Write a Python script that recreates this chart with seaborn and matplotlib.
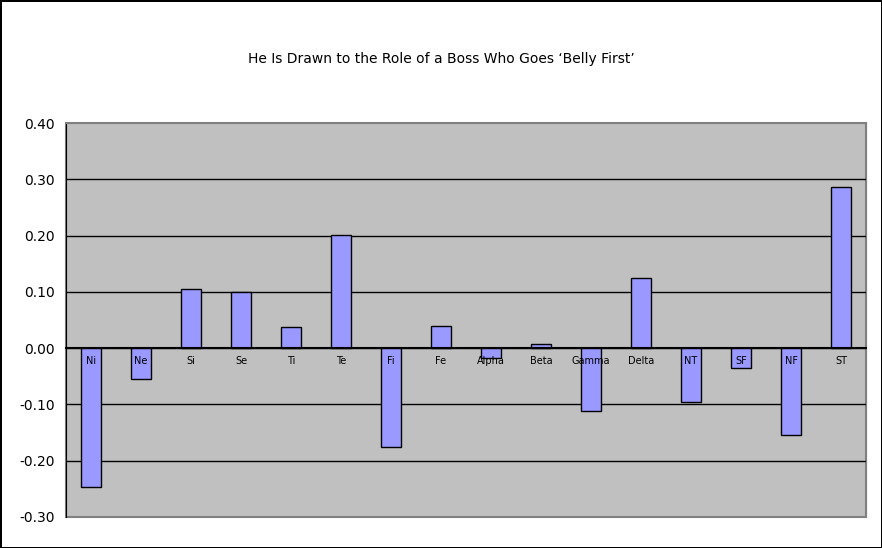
import matplotlib
matplotlib.use('Agg')
import matplotlib.pyplot as plt
import matplotlib.ticker as mticker
import seaborn as sns
import pandas as pd
import numpy as np

# Chart data
categories = ['Ni', 'Ne', 'Si', 'Se', 'Ti', 'Te', 'Fi', 'Fe', 'Alpha', 'Beta',
              'Gamma', 'Delta', 'NT', 'SF', 'NF', 'ST']
values = [-0.247, -0.055, 0.105, 0.100, 0.037, 0.201, -0.175, 0.039, -0.017, 0.008,
          -0.111, 0.124, -0.095, -0.036, -0.155, 0.287]
y_ticks = [-0.30, -0.20, -0.10, 0.00, 0.10, 0.20, 0.30, 0.40]
title = 'He Is Drawn to the Role of a Boss Who Goes \u2018Belly First\u2019'

df = pd.DataFrame({'Category': categories, 'Value': values})

sns.set_style('white')
plt.rcParams['font.family'] = ['DejaVu Sans']
plt.rcParams['text.color'] = 'black'
plt.rcParams['xtick.color'] = 'black'
plt.rcParams['ytick.color'] = 'black'

fig = plt.figure(figsize=(8.82, 5.48), dpi=100)
fig.patch.set_facecolor('white')
fig.patch.set_edgecolor('black')
fig.patch.set_linewidth(2)
ax = fig.add_axes([66 / 882, 1 - 517 / 548, 800 / 882, 394 / 548])

sns.barplot(data=df, x='Category', y='Value', color='#9999ff', saturation=1,
            width=0.4, edgecolor='black', linewidth=1, ax=ax)

ax.set_facecolor('#c0c0c0')
ax.set_ylim(y_ticks[0], y_ticks[-1])
ax.set_xlim(-0.5, len(categories) - 0.5)
ax.set_yticks(y_ticks)
ax.yaxis.set_major_formatter(mticker.FormatStrFormatter('%.2f'))
ax.set_xlabel('')
ax.set_ylabel('')

# grid behind bars, only the inner lines
ax.set_axisbelow(True)
ax.yaxis.grid(True, color='black', linewidth=1)
gl = ax.yaxis.get_gridlines()
gl[0].set_visible(False)
gl[-1].set_visible(False)

# category axis sits on zero, labels drawn over the bars
ax.spines['bottom'].set_position(('data', 0))
ax.spines['bottom'].set_color('black')
ax.spines['bottom'].set_linewidth(1.5)
ax.xaxis.set_zorder(3)
ax.xaxis.set_minor_locator(mticker.FixedLocator(np.arange(0.5, len(categories) - 1, 1)))
ax.tick_params(axis='x', which='major', length=0, pad=6, labelsize=7, labelcolor='black')
ax.tick_params(axis='x', which='minor', length=4, width=1, direction='out', color='black')
ax.tick_params(axis='y', length=5, width=1, direction='out', color='black',
               labelsize=10, pad=3, labelcolor='black')

ax.spines['left'].set_color('black')
ax.spines['top'].set_color('#808080')
ax.spines['right'].set_color('#808080')
ax.patch.set_edgecolor('#808080')
ax.patch.set_linewidth(1.5)
for s in ['top', 'right', 'left']:
    ax.spines[s].set_visible(True)

fig.text(0.5, 1 - 59 / 548, title, ha='center', va='center', fontsize=10, color='black')

fig.savefig('out.png', dpi=100, edgecolor=fig.get_edgecolor())
